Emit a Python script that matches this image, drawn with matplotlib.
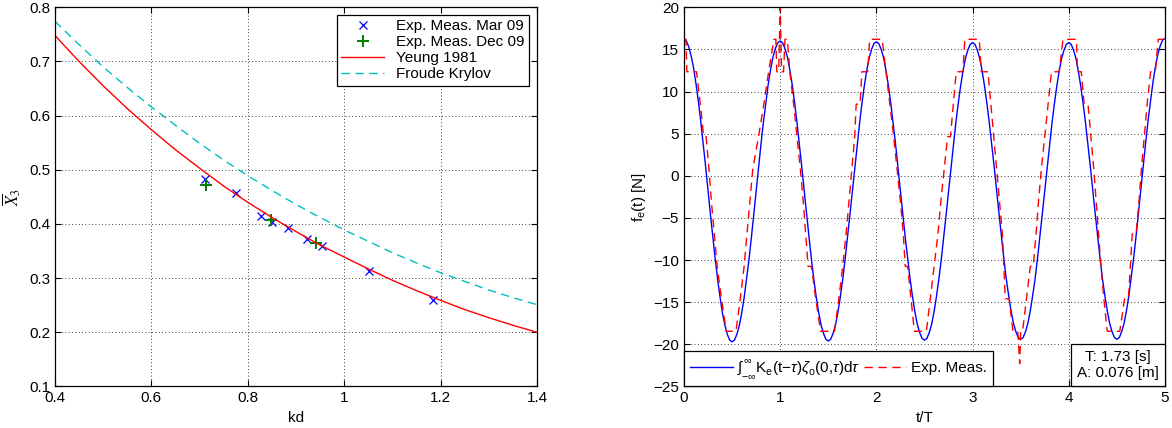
import numpy as np
import matplotlib
matplotlib.use("Agg")
import matplotlib.pyplot as plt
from matplotlib.offsetbox import AnchoredText

plt.rcParams['font.family'] = ['Liberation Sans', 'DejaVu Sans']
plt.rcParams['font.size'] = 11
plt.rcParams['mathtext.fontset'] = 'custom'
plt.rcParams['mathtext.rm'] = 'Liberation Sans'
plt.rcParams['mathtext.it'] = 'Liberation Sans:italic'
plt.rcParams['mathtext.bf'] = 'Liberation Sans:bold'

# ---- left panel: heave excitation vs kd ----
kd_mar = [0.712, 0.776, 0.828, 0.850, 0.884, 0.923, 0.953, 1.052, 1.185]
x3_mar = [0.483, 0.458, 0.415, 0.403, 0.392, 0.373, 0.360, 0.314, 0.260]
kd_dec = [0.714, 0.848, 0.941]
x3_dec = [0.472, 0.408, 0.364]

kd_curve = [0.4, 0.45, 0.5, 0.55, 0.6, 0.65, 0.7, 0.75, 0.8, 0.85, 0.9,
            0.95, 1.0, 1.05, 1.1, 1.15, 1.2, 1.25, 1.3, 1.35, 1.4]
yeung = [0.748, 0.700, 0.655, 0.613, 0.574, 0.537, 0.503, 0.470, 0.440, 0.412, 0.386,
         0.361, 0.339, 0.317, 0.296, 0.277, 0.259, 0.242, 0.227, 0.213, 0.200]
froude_krylov = [0.774, 0.731, 0.690, 0.652, 0.616, 0.582, 0.549, 0.518, 0.489, 0.462, 0.436,
                 0.412, 0.389, 0.368, 0.347, 0.328, 0.310, 0.294, 0.278, 0.264, 0.251]

# ---- right panel: force time series (one list per period, t/T step 0.025) ----
blue_p0 = [16.2, 16.0, 15.3, 14.2, 12.8, 10.9, 8.8, 6.4, 3.8, 1.1, -1.8, -4.6, -7.3, -9.9, -12.3, -14.4,
           -16.3, -17.7, -18.8, -19.5, -19.7, -19.5, -18.8, -17.8, -16.3, -14.5, -12.3, -10.0, -7.4, -4.6,
           -1.9, 0.9, 3.7, 6.3, 8.6, 10.8, 12.6, 14.1, 15.1, 15.8, 16.0]
blue_p1 = [16.0, 15.8, 15.1, 14.1, 12.6, 10.8, 8.7, 6.3, 3.7, 1.0, -1.8, -4.6, -7.3, -9.9, -12.3, -14.4,
           -16.2, -17.7, -18.7, -19.4, -19.6, -19.4, -18.7, -17.7, -16.2, -14.4, -12.3, -9.9, -7.3, -4.6,
           -1.9, 0.9, 3.6, 6.2, 8.6, 10.7, 12.5, 14.0, 15.0, 15.7, 15.9]
blue_p2 = [15.9, 15.7, 15.0, 14.0, 12.5, 10.7, 8.6, 6.2, 3.7, 1.0, -1.8, -4.6, -7.3, -9.8, -12.2, -14.3,
           -16.1, -17.6, -18.6, -19.3, -19.5, -19.3, -18.6, -17.6, -16.1, -14.3, -12.2, -9.9, -7.3, -4.6,
           -1.9, 0.9, 3.6, 6.2, 8.5, 10.6, 12.4, 13.9, 14.9, 15.6, 15.8]
blue_p3 = [15.8, 15.6, 14.9, 13.9, 12.4, 10.6, 8.5, 6.2, 3.6, 1.0, -1.8, -4.5, -7.2, -9.8, -12.2, -14.2,
           -16.0, -17.5, -18.5, -19.2, -19.4, -19.2, -18.5, -17.5, -16.0, -14.2, -12.2, -9.8, -7.2, -4.5,
           -1.8, 1.0, 3.6, 6.2, 8.5, 10.6, 12.4, 13.9, 14.9, 15.6, 15.8]
blue_p4 = [15.8, 15.6, 14.9, 13.9, 12.4, 10.6, 8.5, 6.2, 3.6, 1.0, -1.8, -4.5, -7.2, -9.8, -12.2, -14.2,
           -16.0, -17.5, -18.5, -19.2, -19.4, -19.2, -18.5, -17.5, -16.0, -14.2, -12.0, -9.7, -7.1, -4.3,
           -1.6, 1.2, 4.0, 6.6, 8.9, 11.1, 12.9, 14.4, 15.4, 16.1, 16.3]

red_t0 = [0.0, 0.02, 0.03, 0.13, 0.17, 0.205, 0.23, 0.26, 0.285, 0.315, 0.345, 0.39, 0.44, 0.54, 0.585,
          0.625, 0.655, 0.685, 0.715, 0.775, 0.83, 0.88, 0.935, 0.955, 0.965, 0.985, 1.0, 1.015, 1.035, 1.05, 1.075]
red_f0 = [16.2, 16.2, 12.35, 12.35, 8.5, 4.65, 4.65, 0.8, -3.05, -6.9, -10.75, -14.6, -18.45, -18.45, -14.6,
          -10.75, -6.9, -3.05, 0.8, 4.65, 8.5, 12.35, 16.2, 16.2, 12.35, 12.35, 20.05, 12.35, 12.35, 16.2, 16.2]
red_t1 = [1.10, 1.14, 1.175, 1.21, 1.24, 1.265, 1.29, 1.325, 1.37, 1.42, 1.565, 1.61, 1.65, 1.685, 1.715,
          1.745, 1.775, 1.79, 1.83, 1.85, 1.91, 1.93, 2.06]
red_f1 = [12.35, 8.5, 4.65, 0.8, -3.05, -6.9, -10.75, -10.75, -14.6, -18.45, -18.45, -14.6, -10.75, -6.9, -3.05,
          0.8, 4.65, 8.5, 8.5, 12.35, 12.35, 16.2, 16.2]
red_t2 = [2.10, 2.14, 2.18, 2.215, 2.25, 2.28, 2.30, 2.325, 2.36, 2.395, 2.52, 2.56, 2.60, 2.64, 2.67,
          2.705, 2.74, 2.77, 2.80, 2.83, 2.90, 2.92, 3.07, 3.09, 3.16]
red_f2 = [12.35, 8.5, 4.65, 0.8, -3.05, -6.9, -10.75, -10.75, -14.6, -18.45, -18.45, -14.6, -10.75, -6.9, -3.05,
          0.8, 4.65, 4.65, 8.5, 12.35, 12.35, 16.2, 16.2, 12.35, 12.35]
red_t3 = [3.19, 3.22, 3.25, 3.28, 3.31, 3.34, 3.38, 3.42, 3.47, 3.49, 3.50, 3.52, 3.56, 3.60, 3.63,
          3.66, 3.685, 3.715, 3.75, 3.785, 3.82, 3.90, 3.94, 4.08, 4.09, 4.13, 4.16, 4.20]
red_f3 = [8.5, 4.65, 0.8, -3.05, -6.9, -14.6, -14.6, -18.45, -18.45, -22.3, -18.45, -18.45, -14.6, -10.75, -10.75,
          -6.9, -3.05, 0.8, 4.65, 8.5, 12.35, 12.35, 16.2, 16.2, 12.35, 12.35, 8.5, 8.5]
red_t4 = [4.23, 4.26, 4.285, 4.31, 4.335, 4.365, 4.40, 4.53, 4.58, 4.62, 4.66, 4.70, 4.73, 4.755, 4.785,
          4.815, 4.85, 4.90, 4.93, 5.0]
red_f4 = [4.65, 0.8, -3.05, -6.9, -10.75, -14.6, -18.45, -18.45, -14.6, -14.6, -6.9, -6.9, -3.05, 0.8, 4.65,
          8.5, 12.35, 12.35, 16.2, 16.2]

blue_f = np.concatenate([blue_p0, blue_p1[1:], blue_p2[1:], blue_p3[1:], blue_p4[1:]])
blue_t = np.linspace(0, 5, len(blue_f))
red_t = np.concatenate([red_t0, red_t1, red_t2, red_t3, red_t4])
red_f = np.concatenate([red_f0, red_f1, red_f2, red_f3, red_f4])

fig = plt.figure(figsize=(11.72, 4.28), dpi=100)
ax1 = fig.add_axes([0.0469, 0.097, 0.4113, 0.886])
ax2 = fig.add_axes([0.5836, 0.097, 0.4104, 0.886])

grid_kw = dict(color='k', linestyle=(0, (1, 3)), linewidth=0.6)

# left
ax1.plot(kd_mar, x3_mar, 'x', color='b', markersize=6, markeredgewidth=0.9, label='Exp. Meas. Mar 09')
ax1.plot(kd_dec, x3_dec, '+', color=(0, 0.5, 0), markersize=8, markeredgewidth=1.4, label='Exp. Meas. Dec 09')
ax1.plot(kd_curve, yeung, '-', color='r', linewidth=1.0, label='Yeung 1981')
ax1.plot(kd_curve, froude_krylov, color=(0, 0.75, 0.75), linewidth=1.0, dashes=(6, 4), label='Froude Krylov')
ax1.set_xlim(0.4, 1.4)
ax1.set_ylim(0.1, 0.8)
ax1.set_xticks([0.4, 0.6, 0.8, 1.0, 1.2, 1.4])
ax1.set_xticklabels(['0.4', '0.6', '0.8', '1', '1.2', '1.4'])
ax1.set_yticks([0.1, 0.2, 0.3, 0.4, 0.5, 0.6, 0.7, 0.8])
ax1.set_xlabel('kd')
ax1.set_ylabel(r'$\overline{X}_3$', math_fontfamily='stix', fontsize=12)
ax1.grid(True, **grid_kw)
leg1 = ax1.legend(loc='upper right', fancybox=False, edgecolor='k', framealpha=1,
                  handlelength=2.8, borderaxespad=0.5, borderpad=0.3, labelspacing=0.12)
leg1.get_frame().set_linewidth(0.9)

# right
ax2.plot(blue_t, blue_f, '-', color='b', linewidth=1.0,
         label=r'$\int_{-\infty}^{\infty}$K$_{\mathrm{e}}$(t$-\tau$)$\zeta_{\mathrm{o}}$(0,$\tau$)d$\tau$')
ax2.plot(red_t, red_f, color='r', linewidth=1.0, dashes=(6, 4), label='Exp. Meas.')
ax2.set_xlim(0, 5)
ax2.set_ylim(-25, 20)
ax2.set_xticks(range(0, 6))
ax2.set_yticks(range(-25, 21, 5))
ax2.set_xlabel('t/T')
ax2.set_ylabel(r'f$_{\mathrm{e}}$(t) [N]')
ax2.grid(True, **grid_kw)
leg2 = ax2.legend(loc='lower left', ncol=2, fancybox=False, edgecolor='k', framealpha=1,
                  handlelength=2.8, borderaxespad=0, columnspacing=0.2, handletextpad=0.3)
leg2.get_frame().set_linewidth(0.9)

at = AnchoredText('T: 1.73 [s]\nA: 0.076 [m]', loc='lower right', borderpad=0, frameon=True,
                  prop=dict(size=11, multialignment='center'))
at.patch.set_linewidth(0.9)
ax2.add_artist(at)

for ax in (ax1, ax2):
    ax.tick_params(direction='in', top=True, right=True, length=4, labelsize=11)
    for s in ax.spines.values():
        s.set_linewidth(0.9)

fig.savefig('out.png', dpi=100)
